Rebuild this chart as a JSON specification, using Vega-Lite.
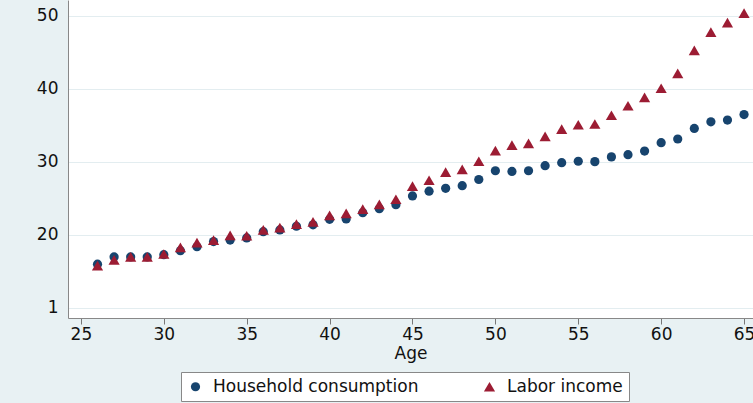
{
  "$schema": "https://vega.github.io/schema/vega-lite/v6.json",
  "autosize": {"type": "none"},
  "width": 685,
  "height": 318,
  "padding": {"left": 68, "top": 0, "right": 0, "bottom": 85},
  "background": "#e8f1f3",
  "config": {
    "view": {"fill": "white", "stroke": null},
    "font": "DejaVu Sans"
  },
  "data": {
    "values": [
      {"age": 26, "series": "Household consumption", "value": 16.0},
      {"age": 27, "series": "Household consumption", "value": 17.0},
      {"age": 28, "series": "Household consumption", "value": 17.0},
      {"age": 29, "series": "Household consumption", "value": 17.0},
      {"age": 30, "series": "Household consumption", "value": 17.3},
      {"age": 31, "series": "Household consumption", "value": 17.85},
      {"age": 32, "series": "Household consumption", "value": 18.4},
      {"age": 33, "series": "Household consumption", "value": 19.1},
      {"age": 34, "series": "Household consumption", "value": 19.3},
      {"age": 35, "series": "Household consumption", "value": 19.6},
      {"age": 36, "series": "Household consumption", "value": 20.45},
      {"age": 37, "series": "Household consumption", "value": 20.7},
      {"age": 38, "series": "Household consumption", "value": 21.2},
      {"age": 39, "series": "Household consumption", "value": 21.4},
      {"age": 40, "series": "Household consumption", "value": 22.15},
      {"age": 41, "series": "Household consumption", "value": 22.2},
      {"age": 42, "series": "Household consumption", "value": 23.05},
      {"age": 43, "series": "Household consumption", "value": 23.6},
      {"age": 44, "series": "Household consumption", "value": 24.15},
      {"age": 45, "series": "Household consumption", "value": 25.35},
      {"age": 46, "series": "Household consumption", "value": 26.0},
      {"age": 47, "series": "Household consumption", "value": 26.4},
      {"age": 48, "series": "Household consumption", "value": 26.75},
      {"age": 49, "series": "Household consumption", "value": 27.6},
      {"age": 50, "series": "Household consumption", "value": 28.8},
      {"age": 51, "series": "Household consumption", "value": 28.7},
      {"age": 52, "series": "Household consumption", "value": 28.8},
      {"age": 53, "series": "Household consumption", "value": 29.5},
      {"age": 54, "series": "Household consumption", "value": 29.9},
      {"age": 55, "series": "Household consumption", "value": 30.1},
      {"age": 56, "series": "Household consumption", "value": 30.05},
      {"age": 57, "series": "Household consumption", "value": 30.7},
      {"age": 58, "series": "Household consumption", "value": 31.0},
      {"age": 59, "series": "Household consumption", "value": 31.5},
      {"age": 60, "series": "Household consumption", "value": 32.65},
      {"age": 61, "series": "Household consumption", "value": 33.15},
      {"age": 62, "series": "Household consumption", "value": 34.6},
      {"age": 63, "series": "Household consumption", "value": 35.5},
      {"age": 64, "series": "Household consumption", "value": 35.75},
      {"age": 65, "series": "Household consumption", "value": 36.5},
      {"age": 26, "series": "Labor income", "value": 15.8},
      {"age": 27, "series": "Labor income", "value": 16.6},
      {"age": 28, "series": "Labor income", "value": 17.0},
      {"age": 29, "series": "Labor income", "value": 17.0},
      {"age": 30, "series": "Labor income", "value": 17.4},
      {"age": 31, "series": "Labor income", "value": 18.3},
      {"age": 32, "series": "Labor income", "value": 18.95},
      {"age": 33, "series": "Labor income", "value": 19.3},
      {"age": 34, "series": "Labor income", "value": 19.95},
      {"age": 35, "series": "Labor income", "value": 19.9},
      {"age": 36, "series": "Labor income", "value": 20.7},
      {"age": 37, "series": "Labor income", "value": 21.0},
      {"age": 38, "series": "Labor income", "value": 21.5},
      {"age": 39, "series": "Labor income", "value": 21.8},
      {"age": 40, "series": "Labor income", "value": 22.7},
      {"age": 41, "series": "Labor income", "value": 22.95},
      {"age": 42, "series": "Labor income", "value": 23.55},
      {"age": 43, "series": "Labor income", "value": 24.2},
      {"age": 44, "series": "Labor income", "value": 24.9},
      {"age": 45, "series": "Labor income", "value": 26.7},
      {"age": 46, "series": "Labor income", "value": 27.5},
      {"age": 47, "series": "Labor income", "value": 28.6},
      {"age": 48, "series": "Labor income", "value": 29.0},
      {"age": 49, "series": "Labor income", "value": 30.1},
      {"age": 50, "series": "Labor income", "value": 31.55},
      {"age": 51, "series": "Labor income", "value": 32.3},
      {"age": 52, "series": "Labor income", "value": 32.55},
      {"age": 53, "series": "Labor income", "value": 33.5},
      {"age": 54, "series": "Labor income", "value": 34.5},
      {"age": 55, "series": "Labor income", "value": 35.1},
      {"age": 56, "series": "Labor income", "value": 35.2},
      {"age": 57, "series": "Labor income", "value": 36.4},
      {"age": 58, "series": "Labor income", "value": 37.7},
      {"age": 59, "series": "Labor income", "value": 38.85},
      {"age": 60, "series": "Labor income", "value": 40.1},
      {"age": 61, "series": "Labor income", "value": 42.15},
      {"age": 62, "series": "Labor income", "value": 45.3},
      {"age": 63, "series": "Labor income", "value": 47.8},
      {"age": 64, "series": "Labor income", "value": 49.1},
      {"age": 65, "series": "Labor income", "value": 50.4}
    ]
  },
  "mark": {"type": "point", "filled": true, "opacity": 1},
  "encoding": {
    "x": {
      "field": "age",
      "type": "quantitative",
      "scale": {"domain": [24.22, 65.54], "nice": false, "zero": false},
      "axis": {
        "values": [25, 30, 35, 40, 45, 50, 55, 60, 65],
        "title": "Age",
        "titleFontSize": 17,
        "titleFontWeight": "normal",
        "titleColor": "#111",
        "titlePadding": 3,
        "labelFontSize": 17,
        "labelColor": "#111",
        "labelPadding": 2,
        "labelFlush": false,
        "tickSize": 6,
        "tickColor": "#777",
        "domainColor": "#888",
        "grid": false
      }
    },
    "y": {
      "field": "value",
      "type": "quantitative",
      "scale": {"domain": [8.63, 52.19], "nice": false, "zero": false},
      "axis": {
        "values": [10, 20, 30, 40, 50],
        "title": null,
        "labelExpr": "datum.value == 10 ? '1' : datum.label",
        "labelFontSize": 17,
        "labelColor": "#111",
        "labelPadding": 10,
        "ticks": false,
        "domainColor": "#888",
        "grid": true,
        "gridColor": "#e3edf0",
        "gridWidth": 1.2
      }
    },
    "color": {
      "field": "series",
      "type": "nominal",
      "scale": {"domain": ["Household consumption", "Labor income"], "range": ["#17446e", "#9c1c33"]},
      "legend": {
        "title": null,
        "orient": "none",
        "legendX": 113,
        "legendY": 372,
        "direction": "horizontal",
        "columns": 2,
        "fillColor": "white",
        "strokeColor": "#888",
        "padding": 6,
        "labelFontSize": 17,
        "labelColor": "#111",
        "labelLimit": 400,
        "columnPadding": 62,
        "labelOffset": 9
      }
    },
    "shape": {
      "field": "series",
      "type": "nominal",
      "scale": {"domain": ["Household consumption", "Labor income"], "range": ["circle", "triangle-up"]},
      "legend": null
    },
    "size": {
      "field": "series",
      "type": "nominal",
      "scale": {"domain": ["Household consumption", "Labor income"], "range": [85, 125]},
      "legend": null
    }
  }
}
